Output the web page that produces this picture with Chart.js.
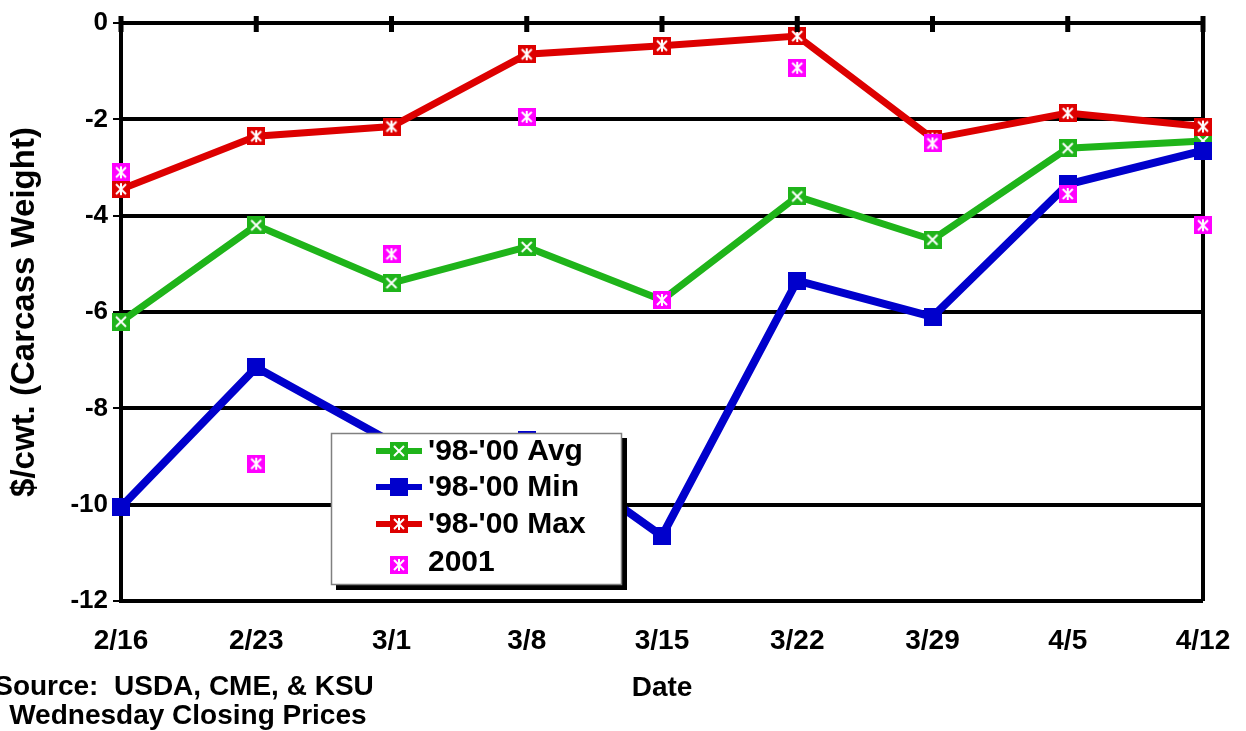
<!DOCTYPE html>
<html>
<head>
<meta charset="utf-8">
<script src="https://cdn.jsdelivr.net/npm/chart.js@4/dist/chart.umd.min.js"></script>
<style>
  body { margin: 0; background: #fff; }
  #wrap { position: relative; width: 1246px; height: 731px; }
</style>
</head>
<body>
<div id="wrap"><canvas id="chart"></canvas></div>
<script>
// weekly dates
var dates = ["2/16", "2/23", "3/1", "3/8", "3/15", "3/22", "3/29", "4/5", "4/12"];
// $/cwt values
var avgValues = [-6.2, -4.2, -5.4, -4.65, -5.75, -3.6, -4.5, -2.6, -2.45];
var minValues = [-10.05, -7.15, -8.7, -8.65, -10.65, -5.35, -6.1, -3.35, -2.65];
var maxValues = [-3.45, -2.35, -2.15, -0.65, -0.47, -0.27, -2.4, -1.87, -2.15];
var values2001 = [-3.1, -9.15, -4.8, -1.95, -5.75, -0.93, -2.5, -3.55, -4.2];
var yTicks = [0, -2, -4, -6, -8, -10, -12];

var FONT = "'Liberation Sans', Arial, sans-serif";
var GREEN = "#1fb41a", BLUE = "#0000cc", RED = "#dd0000", PINK = "#ff00ff";

// square markers with white glyphs
function makeMarker(color, glyph) {
  var c = document.createElement("canvas");
  c.width = 18; c.height = 18;
  var g = c.getContext("2d");
  g.fillStyle = color;
  g.fillRect(0, 0, 18, 18);
  g.strokeStyle = "#fff";
  g.lineWidth = 2;
  if (glyph === "x" || glyph === "star") {
    g.beginPath();
    g.moveTo(4, 4); g.lineTo(14, 14);
    g.moveTo(14, 4); g.lineTo(4, 14);
    if (glyph === "star") { g.moveTo(9, 3); g.lineTo(9, 15); }
    g.stroke();
  }
  return c;
}
var mAvg = makeMarker(GREEN, "x");
var mMin = makeMarker(BLUE, "none");
var mMax = makeMarker(RED, "star");
var m2001 = makeMarker(PINK, "star");

var legendItems = [
  { text: "'98-'00 Avg", color: GREEN, marker: mAvg, line: true },
  { text: "'98-'00 Min", color: BLUE, marker: mMin, line: true },
  { text: "'98-'00 Max", color: RED, marker: mMax, line: true },
  { text: "2001", color: PINK, marker: m2001, line: false }
];

var extras = {
  id: "extras",
  afterDatasetsDraw: function(chart) {
    var ctx = chart.ctx;
    var area = chart.chartArea;
    var x = chart.scales.x;
    ctx.save();
    // category ticks across the zero line
    ctx.fillStyle = "#000";
    for (var i = 0; i < dates.length; i++) {
      var px = x.getPixelForValue(i);
      ctx.fillRect(px - 2.5, area.top - 7, 5, 16);
    }
    // legend box
    ctx.fillStyle = "#000";
    ctx.fillRect(336, 438, 291, 152);
    ctx.fillStyle = "#fff";
    ctx.fillRect(331, 433, 291, 152);
    ctx.strokeStyle = "#808080";
    ctx.lineWidth = 1.5;
    ctx.strokeRect(331.5, 433.5, 290, 151);
    var rows = [451, 487, 524, 562];
    ctx.font = "bold 30px " + FONT;
    ctx.textBaseline = "middle";
    ctx.textAlign = "left";
    legendItems.forEach(function(item, k) {
      var cy = rows[k];
      if (item.line) {
        ctx.strokeStyle = item.color;
        ctx.lineWidth = 6;
        ctx.beginPath();
        ctx.moveTo(376, cy);
        ctx.lineTo(422, cy);
        ctx.stroke();
      }
      ctx.drawImage(item.marker, 399 - 9, cy - 9 + (item.line ? 0 : 3));
      ctx.fillStyle = "#000";
      ctx.fillText(item.text, 428, cy + 1);
    });
    // axis title and source note
    ctx.font = "bold 28px " + FONT;
    ctx.textAlign = "center";
    ctx.fillText("Date", (area.left + area.right) / 2, 688);
    ctx.font = "bold 28px " + FONT;
    ctx.fillText("Source:  USDA, CME, & KSU", 184, 687);
    ctx.fillText(" Wednesday Closing Prices", 184, 716);
    ctx.restore();
  }
};

new Chart(document.getElementById("chart"), {
  type: "line",
  data: {
    labels: dates,
    datasets: [
      { label: "'98-'00 Avg", data: avgValues, borderColor: GREEN, borderWidth: 7,
        pointStyle: mAvg, order: 4, clip: false },
      { label: "'98-'00 Min", data: minValues, borderColor: BLUE, borderWidth: 8,
        pointStyle: mMin, order: 3, clip: false },
      { label: "'98-'00 Max", data: maxValues, borderColor: RED, borderWidth: 7,
        pointStyle: mMax, order: 2, clip: false },
      { label: "2001", data: values2001, borderColor: PINK, showLine: false,
        pointStyle: m2001, order: 1, clip: false }
    ]
  },
  options: {
    responsive: true,
    maintainAspectRatio: false,
    animation: false,
    events: [],
    layout: { padding: { top: 23, right: 43, left: 0, bottom: 0 } },
    elements: { line: { tension: 0, fill: false } },
    plugins: { legend: { display: false }, tooltip: { enabled: false } },
    scales: {
      x: {
        type: "category",
        offset: false,
        afterFit: function(s) { s.height = 130; },
        border: { display: false },
        grid: {
          lineWidth: 4,
          drawTicks: true,
          tickLength: 20,
          tickColor: "rgba(0,0,0,0)",
          color: function(c) { return c.index === dates.length - 1 ? "#000" : "rgba(0,0,0,0)"; }
        },
        ticks: { color: "#000", padding: 3, maxRotation: 0, font: { family: FONT, size: 28, weight: "bold" } }
      },
      y: {
        min: -12,
        max: 0,
        afterFit: function(s) { s.width = 121; },
        afterBuildTicks: function(s) { s.ticks = yTicks.map(function(v) { return { value: v }; }); },
        border: { display: true, color: "#000", width: 4 },
        grid: { color: "#000", lineWidth: 4, tickLength: 8, tickWidth: 2, tickColor: "#000" },
        ticks: { color: "#000", padding: 5, font: { family: FONT, size: 26, weight: "bold" } },
        title: {
          display: true,
          text: "$/cwt. (Carcass Weight)",
          color: "#000",
          padding: { top: 5, bottom: 0 },
          font: { family: FONT, size: 33, weight: "bold" }
        }
      }
    }
  },
  plugins: [extras]
});
</script>
</body>
</html>
